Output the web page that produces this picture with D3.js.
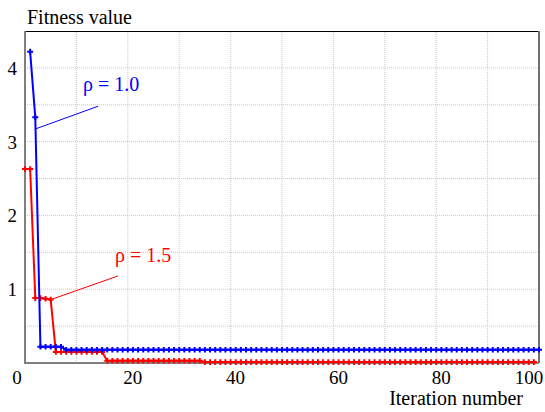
<!DOCTYPE html>
<html>
  <head>
    <style>
      body {margin: 0; background: #ffffff;}
    </style>
    <script src="https://d3js.org/d3.v7.min.js"></script>
  </head>
  <body>
    <div id="chart-div"></div>
    <script>
      // iteration numbers and fitness values
      const blueIter = d3.range(1, 101),
            redIter  = d3.range(0, 100)

      const blueFitness = [
        4.22, 3.33, 0.22, 0.22, 0.22, 0.22, 0.22, 0.18, 0.18, 0.18,
        0.18, 0.18, 0.18, 0.18, 0.18, 0.18, 0.18, 0.18, 0.18, 0.18,
        0.18, 0.18, 0.18, 0.18, 0.18, 0.18, 0.18, 0.18, 0.18, 0.18,
        0.18, 0.18, 0.18, 0.18, 0.18, 0.18, 0.18, 0.18, 0.18, 0.18,
        0.18, 0.18, 0.18, 0.18, 0.18, 0.18, 0.18, 0.18, 0.18, 0.18,
        0.18, 0.18, 0.18, 0.18, 0.18, 0.18, 0.18, 0.18, 0.18, 0.18,
        0.18, 0.18, 0.18, 0.18, 0.18, 0.18, 0.18, 0.18, 0.18, 0.18,
        0.18, 0.18, 0.18, 0.18, 0.18, 0.18, 0.18, 0.18, 0.18, 0.18,
        0.18, 0.18, 0.18, 0.18, 0.18, 0.18, 0.18, 0.18, 0.18, 0.18,
        0.18, 0.18, 0.18, 0.18, 0.18, 0.18, 0.18, 0.18, 0.18, 0.18
      ]

      const redFitness = [
        2.63, 2.63, 0.88, 0.88, 0.87, 0.86, 0.15, 0.15, 0.15, 0.15,
        0.15, 0.15, 0.15, 0.15, 0.15, 0.15, 0.03, 0.03, 0.03, 0.03,
        0.03, 0.03, 0.03, 0.03, 0.03, 0.03, 0.03, 0.03, 0.03, 0.03,
        0.03, 0.03, 0.03, 0.03, 0.03, 0.012, 0.012, 0.012, 0.012, 0.012,
        0.012, 0.012, 0.012, 0.012, 0.012, 0.012, 0.012, 0.012, 0.012, 0.012,
        0.012, 0.012, 0.012, 0.012, 0.012, 0.012, 0.012, 0.012, 0.012, 0.012,
        0.012, 0.012, 0.012, 0.012, 0.012, 0.012, 0.012, 0.012, 0.012, 0.012,
        0.012, 0.012, 0.012, 0.012, 0.012, 0.012, 0.012, 0.012, 0.012, 0.012,
        0.012, 0.012, 0.012, 0.012, 0.012, 0.012, 0.012, 0.012, 0.012, 0.012,
        0.012, 0.012, 0.012, 0.012, 0.012, 0.012, 0.012, 0.012, 0.012, 0.012
      ]

      const xTicks = [0, 20, 40, 60, 80, 100],
            yTicks = [1, 2, 3, 4],
            xGrid  = [10, 20, 30, 40, 50, 60, 70, 80, 90],
            yGrid  = [0.5, 1, 1.5, 2, 2.5, 3, 3.5, 4]

      const seriesNames = ["ρ = 1.0", "ρ = 1.5"]

      var w = 545, h = 412
      margin = ({top: 31, right: 6, bottom: 49, left: 25})
      var serif = "'Liberation Serif', 'Times New Roman', serif"

      var svg = d3.select("#chart-div")
        .append("svg")
        .attr("width", w)
        .attr("height", h)

      var x = d3.scaleLinear().domain([0, 100]).range([margin.left, w - margin.right])
      var y = d3.scaleLinear().domain([0, 4.5]).range([h - margin.bottom, margin.top])

      // dotted grid
      svg.append("g").selectAll("line")
        .data(xGrid).enter().append("line")
          .attr("x1", d => x(d)).attr("x2", d => x(d))
          .attr("y1", y(0)).attr("y2", y(4.5))
          .style("stroke", "#c8c8c8").style("stroke-dasharray", "1,1")
      svg.append("g").selectAll("line")
        .data(yGrid).enter().append("line")
          .attr("x1", x(0)).attr("x2", x(100))
          .attr("y1", d => y(d)).attr("y2", d => y(d))
          .style("stroke", "#c8c8c8").style("stroke-dasharray", "1,1")

      // frame
      svg.append("line")
        .attr("x1", x(0)).attr("x2", x(100)).attr("y1", y(4.5) + 0.5).attr("y2", y(4.5) + 0.5)
        .style("stroke", "#000000").style("stroke-width", 1)
      svg.append("line")
        .attr("x1", x(100)).attr("x2", x(100)).attr("y1", y(4.5)).attr("y2", y(0))
        .style("stroke", "#707070").style("stroke-width", 2)
      svg.append("line")
        .attr("x1", x(0)).attr("x2", x(0)).attr("y1", y(4.5)).attr("y2", y(0) + 1)
        .style("stroke", "#808080").style("stroke-width", 2)
      svg.append("line")
        .attr("x1", x(0)).attr("x2", x(100)).attr("y1", y(0)).attr("y2", y(0))
        .style("stroke", "#808080").style("stroke-width", 2)

      // tick labels
      svg.append("g").selectAll("text")
        .data(xTicks).enter().append("text")
          .attr("x", d => d == 0 ? x(d) - 8 : (d == 100 ? x(d) - 10 : x(d) + 5))
          .attr("y", 384)
          .attr("text-anchor", "middle")
          .style("font-family", serif)
          .style("font-size", "19px")
          .text(d => d)
      svg.append("g").selectAll("text")
        .data(yTicks).enter().append("text")
          .attr("x", 17)
          .attr("y", d => y(d) + 7)
          .attr("text-anchor", "end")
          .style("font-family", serif)
          .style("font-size", "19px")
          .text(d => d)

      svg.append("text")
        .attr("x", 27).attr("y", 24)
        .style("font-family", serif)
        .style("font-size", "20px")
        .text("Fitness value")
      svg.append("text")
        .attr("x", 523).attr("y", 405)
        .attr("text-anchor", "end")
        .style("font-family", serif)
        .style("font-size", "20px")
        .text("Iteration number")

      var line = d3.line().x(d => x(d[0])).y(d => y(d[1]))
      var plus = "M-3,0H3M0,-2.8V2.8"

      function drawSeries(iters, vals, color) {
        var pts = iters.map((it, i) => [it, vals[i]])
        svg.append("path")
          .datum(pts)
          .attr("d", line)
          .style("fill", "none")
          .style("stroke", color)
          .style("stroke-width", 2)
        svg.append("g").selectAll("path")
          .data(pts).enter().append("path")
            .attr("transform", d => "translate(" + x(d[0]) + "," + y(d[1]) + ")")
            .attr("d", plus)
            .style("stroke", color)
            .style("stroke-width", 2)
      }

      drawSeries(redIter, redFitness, "#ff0000")
      drawSeries(blueIter, blueFitness, "#0000ff")

      // annotations
      svg.append("line")
        .attr("x1", x(1.95)).attr("y1", y(3.17)).attr("x2", x(14.2)).attr("y2", y(3.48))
        .style("stroke", "#0000ff").style("stroke-width", 1)
      svg.append("text")
        .attr("x", x(11.3)).attr("y", y(3.68))
        .style("font-family", serif)
        .style("font-size", "20px").style("fill", "#0000ff")
        .text(seriesNames[0])
      svg.append("line")
        .attr("x1", x(5.45)).attr("y1", y(0.87)).attr("x2", x(18.1)).attr("y2", y(1.18))
        .style("stroke", "#ff0000").style("stroke-width", 1)
      svg.append("text")
        .attr("x", x(17.5)).attr("y", y(1.37))
        .style("font-family", serif)
        .style("font-size", "20px").style("fill", "#ff0000")
        .text(seriesNames[1])
    </script>
  </body>
</html>
